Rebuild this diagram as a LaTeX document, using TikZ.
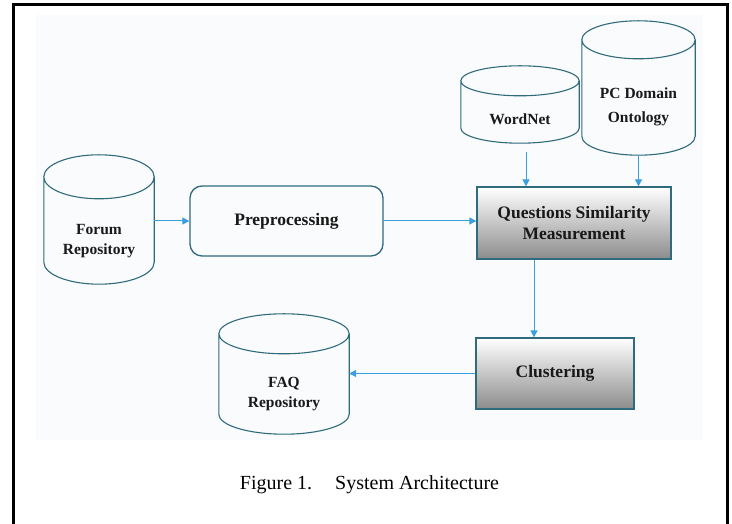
\documentclass[tikz,border=0pt]{standalone}
\usepackage{fontspec}
\setmainfont{Liberation Serif}
\usetikzlibrary{arrows.meta,calc,shadows}
\definecolor{dbteal}{HTML}{2F6B7C}
\definecolor{flowblue}{HTML}{3A9EDF}
\definecolor{panel}{HTML}{FAFBFD}
\tikzset{
	dbtext/.style={inner sep=0pt, align=center, text=black!90, font=\fontsize{15.5}{20}\selectfont\bfseries},
	dbline/.style={draw=dbteal, line width=1.1pt},
	procbox/.style={draw=dbteal, line width=1.3pt, inner sep=0pt, align=center, text=black!90, font=\fontsize{17.5}{21}\selectfont\bfseries},
	shadebox/.style={procbox, top color=white, bottom color=black!45, drop shadow={shadow xshift=-1.5pt,shadow yshift=-1.5pt,opacity=0.3}},
	flow/.style={draw=flowblue, line width=1pt, -{Triangle[length=7pt,width=7pt]}},
}
% cylinder round node #1 (node = body below the top rim), rim half height #2
\newcommand\drawdb[2]{%
	\draw[dbline] let \p1=(#1.north west), \p2=(#1.south east), \n1={(\x2-\x1)/2} in
	(\x1,\y1+#2) -- (\x1,\y2+#2) arc[start angle=180,end angle=360,x radius=\n1,y radius=#2] -- (\x2,\y1+#2)
	([yshift=#2]#1.north) ellipse[x radius=\n1,y radius=#2];}
\begin{document}
\begin{tikzpicture}[x=1pt,y=1pt]
	\useasboundingbox (0,0) rectangle (732,524);
	\fill[panel] (36,84) rectangle (703,509);
	\draw[line width=3pt] (13,-10) -- (13,519) -- (727,519) -- (727,-10);
	% stores
	\node[dbtext, minimum width=110pt, minimum height=85pt] (forum) at (99,282.5) {Forum\\Repository};
	\node[dbtext, minimum width=118pt, minimum height=47pt] (wordnet) at (520,404.5) {WordNet};
	\node[dbtext, minimum width=113pt, minimum height=96pt] (ontology) at (638.5,417) {PC Domain\\[4pt]Ontology};
	\node[dbtext, minimum width=130pt, minimum height=80pt] (faq) at (284,130) {FAQ\\Repository};
	\drawdb{forum}{22pt}
	\drawdb{wordnet}{15pt}
	\drawdb{ontology}{19pt}
	\drawdb{faq}{20pt}
	% steps
	\node[procbox, rounded corners=12pt, minimum width=193pt, minimum height=70pt] (prep) at (286.5,303) {Preprocessing};
	\node[shadebox, minimum width=194pt, minimum height=72pt] (qsm) at (574,301) {Questions Similarity\\Measurement};
	\node[shadebox, minimum width=158pt, minimum height=71pt] (cluster) at (555,150.5) {Clustering};
	% flow
	\draw[flow] (prep.west -| forum.east) -- (prep.west);
	\draw[flow] (prep.east) -- (prep.east -| qsm.west);
	\draw[flow, shorten <=9pt] ([xshift=6pt]wordnet.south) -- ([xshift=6pt]wordnet.south |- qsm.north);
	\draw[flow] (ontology.south) -- (ontology.south |- qsm.north);
	\coordinate (split) at ([xshift=-40pt]qsm.south);
	\draw[flow] (split) -- (split |- cluster.north);
	\draw[flow] (cluster.west) -- (cluster.west -| faq.east);
	\node[font=\fontsize{20}{24}\selectfont] (caption) at (369.5,39) {Figure 1.\hspace{23pt}System Architecture};
\end{tikzpicture}
\end{document}
